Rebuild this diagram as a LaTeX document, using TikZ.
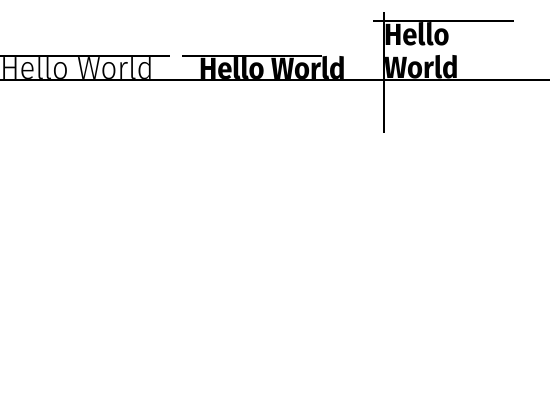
\documentclass[tikz,border=0pt]{standalone}
\usepackage{fontspec}
\newfontfamily\lightfont{Fira Sans Light}[FakeStretch=0.92]
\newfontfamily\boldfont{Fira Sans}[FakeStretch=0.9]
\begin{document}
\begin{tikzpicture}[x=1pt,y=-1pt,
  rule/.style={line width=1.9pt},
  txt/.style={inner sep=0pt,outer sep=0pt,anchor=base west}]
\fill[white] (0,0) rectangle (550,400);
\useasboundingbox (0,0) rectangle (550,400);
% baseline across
\coordinate (bl) at (0,80);
\coordinate (br) at (550,80);
\draw[rule] (bl) -- (br);
% first text
\node[txt,font=\lightfont\fontsize{32}{38}\selectfont] (t1) at (0,79) {Hello World};
\coordinate (l1a) at (0,56);
\coordinate (l1b) at (170,56);
\draw[rule] (l1a) -- (l1b);
% second text
\node[txt,font=\boldfont\bfseries\fontsize{30.5}{33}\selectfont] (t2) at (199,79) {Hello World};
\coordinate (l2a) at (182,56);
\coordinate (l2b) at (322,56);
\draw[rule] (l2a) -- (l2b);
% third text
\node[txt,align=left,font=\boldfont\bfseries\fontsize{30.5}{33}\selectfont] (t3) at (384,78) {Hello\\World};
\coordinate (l3a) at (373,21);
\coordinate (l3b) at (514,21);
\draw[rule] (l3a) -- (l3b);
\coordinate (v1) at (384,12);
\coordinate (v2) at (384,133);
\draw[rule] (v1) -- (v2);
\end{tikzpicture}
\end{document}
